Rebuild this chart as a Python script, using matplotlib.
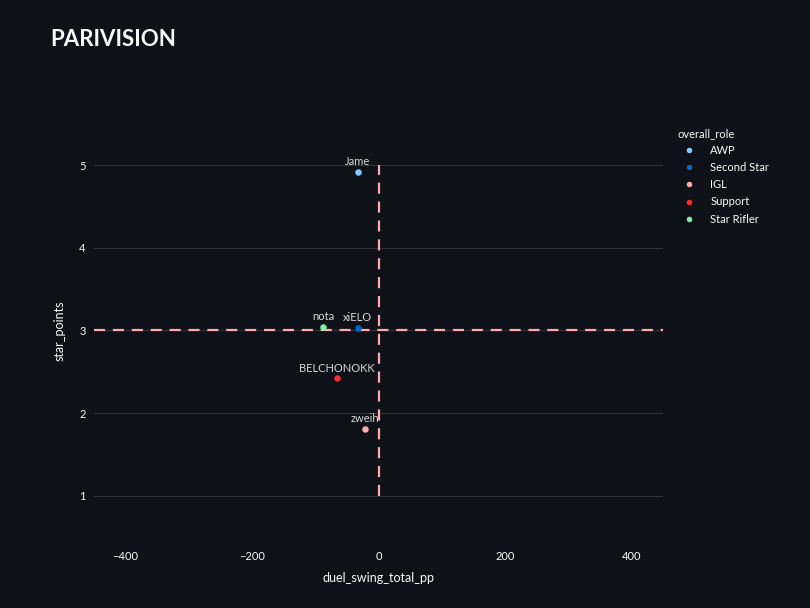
import matplotlib
matplotlib.use("Agg")
import matplotlib.pyplot as plt
from matplotlib.lines import Line2D

# player data
players = ["Jame", "xiELO", "nota", "BELCHONOKK", "zweih"]
roles = ["AWP", "Second Star", "Star Rifler", "Support", "IGL"]
duel_swing = [-33, -33, -87, -66, -22]
star_points = [4.92, 3.03, 3.04, 2.42, 1.81]

role_order = ["AWP", "Second Star", "IGL", "Support", "Star Rifler"]
role_colors = {
    "AWP": "#83c9ff",
    "Second Star": "#0068c9",
    "IGL": "#ffabab",
    "Support": "#ff2b2b",
    "Star Rifler": "#7defa1",
}

bg = "#0e1117"
txt = "#fafafa"
grid_c = "#31333f"

plt.rcParams["font.family"] = ["Lato", "DejaVu Sans"]

fig = plt.figure(figsize=(8.1, 6.08), dpi=100, facecolor=bg)
ax = fig.add_axes([94 / 810, 1 - 537 / 608, (663 - 94) / 810, (537 - 124) / 608])
ax.set_facecolor(bg)

for r in role_order:
    xs = [x for x, rr in zip(duel_swing, roles) if rr == r]
    ys = [y for y, rr in zip(star_points, roles) if rr == r]
    ax.scatter(xs, ys, s=22, color=role_colors[r], zorder=4, linewidths=0)

for name, x, y in zip(players, duel_swing, star_points):
    ax.annotate(name, (x, y), xytext=(0, 3.5), textcoords="offset points",
                ha="center", va="bottom", color="#d8d8dc", fontsize=8, zorder=5)

ax.axhline(3, color="#ffabab", lw=1.6, ls=(0, (5, 3.5)), zorder=3)
ax.plot([0, 0], [1, 5], color="#ffabab", lw=1.6, ls=(0, (5, 3.5)), zorder=3)

ax.set_xlim(-450, 450)
ax.set_ylim(0.5, 5.5)
ax.set_xticks([-400, -200, 0, 200, 400])
ax.set_xticklabels(["\u2212400", "\u2212200", "0", "200", "400"])
ax.set_yticks([1, 2, 3, 4, 5])
ax.grid(axis="y", color=grid_c, lw=0.8, zorder=0)
ax.tick_params(colors=txt, labelsize=8, length=0, pad=6)
ax.tick_params(axis="x", pad=10)
for s in ax.spines.values():
    s.set_visible(False)

ax.set_xlabel("duel_swing_total_pp", color=txt, fontsize=9, labelpad=7)
ax.set_ylabel("star_points", color=txt, fontsize=9, labelpad=10)

fig.text(50 / 810, 1 - 40 / 608, "PARIVISION", color=txt, fontsize=16,
         fontweight="bold", va="center", ha="left")

handles = [Line2D([], [], ls="", marker="o", ms=4, color=role_colors[r],
                  markeredgewidth=0) for r in role_order]
leg = fig.legend(handles, role_order, title="overall_role", loc="upper left",
                 bbox_to_anchor=(668 / 810, 1 - 118 / 608), frameon=False,
                 fontsize=8, title_fontsize=8, labelcolor=txt,
                 handletextpad=0.9, labelspacing=0.55, alignment="left")
leg.get_title().set_color(txt)

fig.savefig("out.png", dpi=100, facecolor=bg)
